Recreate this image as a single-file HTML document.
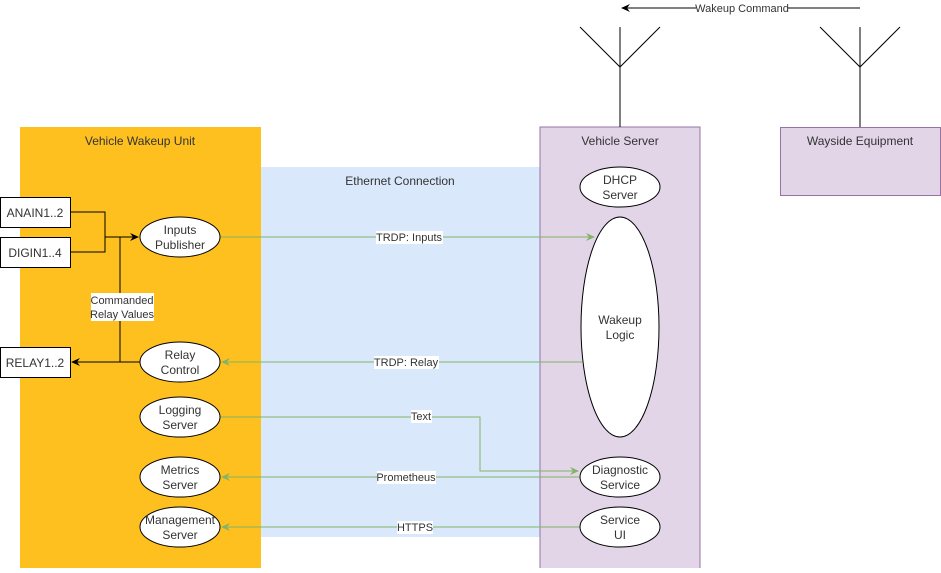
<!DOCTYPE html>
<html><head><meta charset="utf-8"><style>
html,body{margin:0;padding:0;background:#fff;}
svg text{font-family:"Liberation Sans",Arial,sans-serif;font-size:12px;fill:#333;}
</style></head><body>
<svg width="941" height="568" viewBox="0 0 941 568" xmlns="http://www.w3.org/2000/svg">
<defs>
<marker id="ab" markerWidth="10" markerHeight="10" refX="8" refY="5" orient="auto" markerUnits="userSpaceOnUse"><path d="M0,1 L9,5 L0,9 L3,5 Z" fill="#000"/></marker>
<marker id="ag" markerWidth="10" markerHeight="10" refX="8" refY="5" orient="auto" markerUnits="userSpaceOnUse"><path d="M0,1 L9,5 L0,9 L3,5 Z" fill="#82b366"/></marker>
</defs>
<rect x="20" y="127" width="241" height="445" fill="#FEC01E"/>
<rect x="261" y="167" width="279" height="370" fill="#DAE8FC"/>
<rect x="540" y="127" width="160" height="445" fill="#E1D5E7" stroke="#9673A6"/>
<rect x="780.5" y="127.5" width="160" height="68" fill="#E1D5E7" stroke="#9673A6"/>
<text x="140" y="145" text-anchor="middle">Vehicle Wakeup Unit</text>
<text x="400" y="185" text-anchor="middle">Ethernet Connection</text>
<text x="620" y="145" text-anchor="middle">Vehicle Server</text>
<text x="860" y="145" text-anchor="middle">Wayside Equipment</text>
<g stroke="#000" fill="none">
<path d="M580,27 L620,67 L660,27 M620,27 L620,127"/>
<path d="M820,27 L860,67 L900,27 M860,27 L860,127"/>
<path d="M860,8 L622,8" marker-end="url(#ab)"/>
</g>
<rect x="696" y="1" width="92" height="14" fill="#fff"/>
<text x="742" y="12" text-anchor="middle" style="font-size:11px">Wakeup Command</text>
<g stroke="#000" fill="#fff">
<rect x="0.5" y="197.5" width="70" height="30"/>
<rect x="0.5" y="237.5" width="70" height="30"/>
<rect x="0.5" y="347.5" width="70" height="30"/>
</g>
<text x="35" y="217" text-anchor="middle">ANAIN1..2</text>
<text x="35" y="257" text-anchor="middle">DIGIN1..4</text>
<text x="35" y="367" text-anchor="middle">RELAY1..2</text>
<g stroke="#000" fill="none">
<path d="M70,212 L105,212 L105,237 M70,252 L105,252 L105,237 L138,237" marker-end="url(#ab)"/>
<path d="M120,237 L120,362"/>
<path d="M140,362 L72,362" marker-end="url(#ab)"/>
</g>
<rect x="91" y="293" width="63" height="28" fill="#fff"/>
<text x="122" y="304" text-anchor="middle" style="font-size:11px">Commanded</text>
<text x="122" y="318" text-anchor="middle" style="font-size:11px">Relay Values</text>
<g stroke="#82b366" fill="none">
<path d="M220,237 L594,237" marker-end="url(#ag)"/>
<path d="M582,362 L222,362" marker-end="url(#ag)"/>
<path d="M220,417 L480,417 L480,471 L578,471" marker-end="url(#ag)"/>
<path d="M580,477 L222,477" marker-end="url(#ag)"/>
<path d="M580,527 L222,527" marker-end="url(#ag)"/>
</g>
<g style="font-size:11px">
<rect x="376" y="231" width="67" height="13" fill="#fff"/><text x="409" y="241" text-anchor="middle" style="font-size:11px">TRDP: Inputs</text>
<rect x="374" y="356" width="65" height="13" fill="#fff"/><text x="406" y="366" text-anchor="middle" style="font-size:11px">TRDP: Relay</text>
<rect x="411" y="410" width="21" height="13" fill="#fff"/><text x="421" y="420" text-anchor="middle" style="font-size:11px">Text</text>
<rect x="377" y="471" width="59" height="13" fill="#fff"/><text x="406" y="481" text-anchor="middle" style="font-size:11px">Prometheus</text>
<rect x="397" y="521" width="36" height="13" fill="#fff"/><text x="415" y="531" text-anchor="middle" style="font-size:11px">HTTPS</text>
</g>
<g stroke="#000" fill="#fff">
<ellipse cx="180" cy="237" rx="40" ry="20"/>
<ellipse cx="180" cy="362" rx="40" ry="20"/>
<ellipse cx="180" cy="417" rx="40" ry="20"/>
<ellipse cx="180" cy="477" rx="40" ry="20"/>
<ellipse cx="180" cy="527" rx="40" ry="20"/>
<ellipse cx="620" cy="187" rx="40" ry="20"/>
<ellipse cx="620" cy="327" rx="39" ry="110"/>
<ellipse cx="620" cy="477" rx="40" ry="20"/>
<ellipse cx="620" cy="527" rx="40" ry="20"/>
</g>
<g text-anchor="middle">
<text x="180" y="234">Inputs</text><text x="180" y="249">Publisher</text>
<text x="180" y="359">Relay</text><text x="180" y="374">Control</text>
<text x="180" y="414">Logging</text><text x="180" y="429">Server</text>
<text x="180" y="474">Metrics</text><text x="180" y="489">Server</text>
<text x="180" y="524">Management</text><text x="180" y="539">Server</text>
<text x="620" y="184">DHCP</text><text x="620" y="199">Server</text>
<text x="620" y="324">Wakeup</text><text x="620" y="339">Logic</text>
<text x="620" y="474">Diagnostic</text><text x="620" y="489">Service</text>
<text x="620" y="524">Service</text><text x="620" y="539">UI</text>
</g>
</svg>
</body></html>
